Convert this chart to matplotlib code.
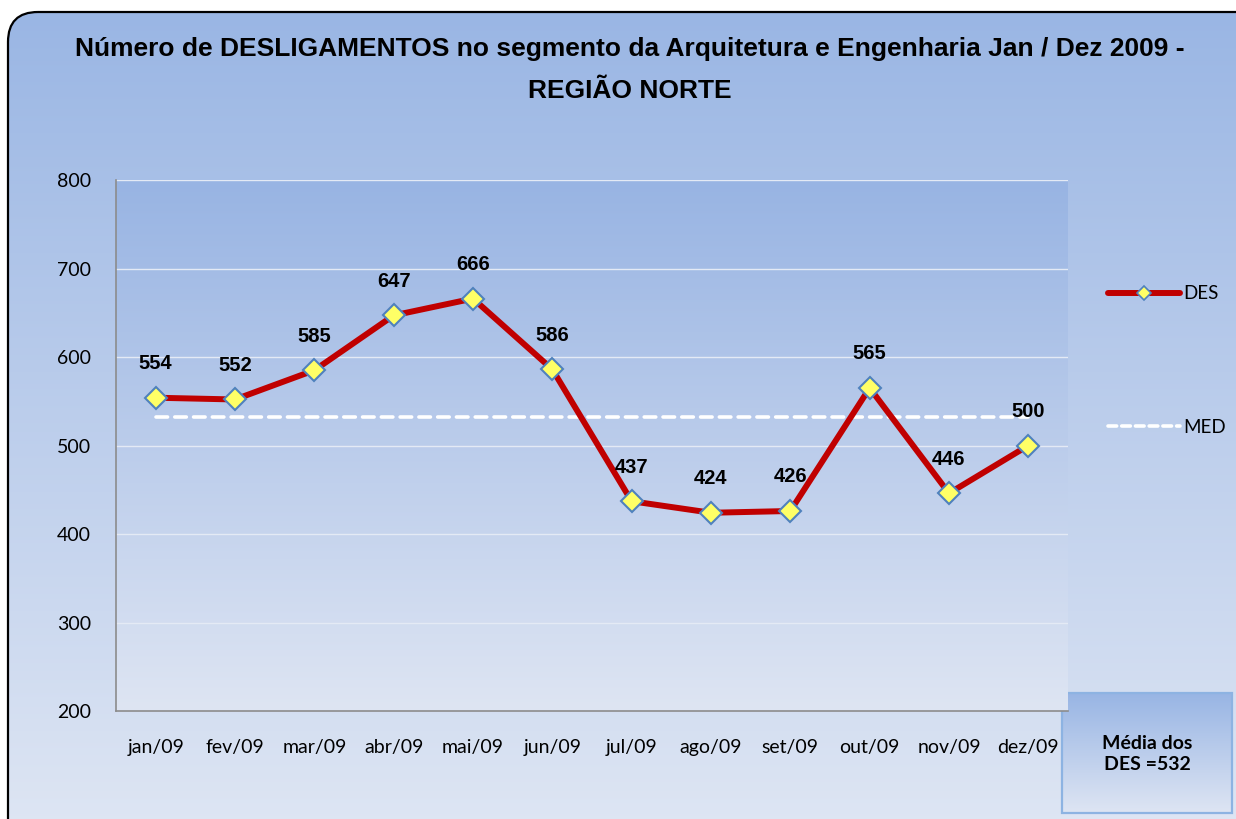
import numpy as np
import matplotlib
matplotlib.use("Agg")
import matplotlib.pyplot as plt
from matplotlib.patches import FancyBboxPatch, Rectangle
from matplotlib.lines import Line2D
from matplotlib import font_manager as fm

months = ["jan/09", "fev/09", "mar/09", "abr/09", "mai/09", "jun/09",
          "jul/09", "ago/09", "set/09", "out/09", "nov/09", "dez/09"]
des = [554, 552, 585, 647, 666, 586, 437, 424, 426, 565, 446, 500]
med_value = 532
med = [med_value] * len(months)
yticks = [200, 300, 400, 500, 600, 700, 800]
title = "Número de DESLIGAMENTOS no segmento da Arquitetura e Engenharia Jan / Dez 2009 -\nREGIÃO NORTE"
box_text = "Média dos\nDES =%d" % med_value

def bold_fp(size):
    return fm.FontProperties(family="Liberation Sans", weight="bold", size=size)

W, H = 1236, 819
fig = plt.figure(figsize=(W / 100, H / 100), dpi=100)
fig.patch.set_facecolor("white")

def vgrad(top, bottom, n=256):
    top = np.array(top) / 255.0
    bottom = np.array(bottom) / 255.0
    t = np.linspace(0, 1, n)[:, None]
    g = top[None, :] * (1 - t) + bottom[None, :] * t
    return g[:, None, :]

# background axes in pixel coordinates
bg = fig.add_axes([0, 0, 1, 1], zorder=-2)
bg.set_xlim(0, W)
bg.set_ylim(H, 0)
bg.axis("off")
frame = FancyBboxPatch((8, 12), 1262, 840, boxstyle="round,pad=0,rounding_size=30",
                       facecolor="none", edgecolor="black", lw=1.6, zorder=3)
bg.add_patch(frame)
im = bg.imshow(vgrad((154, 182, 228), (224, 231, 244)), extent=(8, 1270, 852, 12),
               aspect="auto", zorder=1, interpolation="bilinear")
im.set_clip_path(frame)
bg.set_xlim(0, W)
bg.set_ylim(H, 0)

# title
fig.text(630 / W, 1 - 70 / H, title, ha="center", va="center",
         fontproperties=bold_fp(19), linespacing=1.9, color="black")

# main axes
L, R, T, B = 116, 1068, 180, 711
ax = fig.add_axes([L / W, 1 - B / H, (R - L) / W, (B - T) / H], zorder=1)
ax.patch.set_visible(False)
ax.imshow(vgrad((152, 180, 227), (222, 229, 243)), extent=(0, 1, 0, 1),
          transform=ax.transAxes, aspect="auto", zorder=0, interpolation="bilinear")

x = np.arange(len(months))
ax.plot(x, med, color="white", lw=2.6, dashes=(3.2, 2.0), dash_capstyle="round",
        zorder=3, label="MED")
ax.plot(x, des, color="#C00000", lw=4.3, solid_capstyle="round", zorder=4,
        marker="D", markersize=11.5, markerfacecolor="#FFFF66",
        markeredgecolor="#4F81BD", markeredgewidth=1.5, label="DES")

for xi, v in zip(x, des):
    ax.annotate(str(v), (xi, v), xytext=(0, 24.5), textcoords="offset points",
                ha="center", va="center", fontproperties=bold_fp(14.5), zorder=5)

ax.set_xlim(-0.5, len(months) - 0.5)
ax.set_ylim(200, 800)
ax.set_yticks(yticks)
ax.set_xticks(x)
ax.set_xticklabels(months)
ax.grid(axis="y", color="#E4EAF5", lw=1.0, zorder=1)
ax.set_axisbelow(True)
for s in ["top", "right"]:
    ax.spines[s].set_visible(False)
for s in ["left", "bottom"]:
    ax.spines[s].set_color("#8C8C8C")
    ax.spines[s].set_linewidth(1.2)
ax.tick_params(axis="both", length=0, labelsize=14, pad=18)
for lab in ax.get_xticklabels() + ax.get_yticklabels():
    lab.set_family("Lato")
ax.tick_params(axis="x", pad=20)

# legend
h_des = Line2D([], [], color="#C00000", lw=4.3, solid_capstyle="round", marker="D",
               markersize=7, markerfacecolor="#FFFF66", markeredgecolor="#4F81BD",
               markeredgewidth=1.2)
h_med = Line2D([], [], color="white", lw=2.6, dashes=(2.4, 1.4), dash_capstyle="round")
leg = fig.legend([h_des, h_med], ["DES", "MED"], loc="upper left",
                 bbox_to_anchor=(1099 / W, 1 - 276 / H), frameon=False,
                 prop={"family": "Lato", "size": 13.5}, handlelength=3.8,
                 handletextpad=0.2, labelspacing=6.2, borderpad=0)

# info box bottom-right
bx, by, bw, bh = 1062, 693, 170, 120
rect = Rectangle((bx, by), bw, bh, facecolor="none", edgecolor="#8DB3E2", lw=1.6, zorder=3)
bg.add_patch(rect)
im2 = bg.imshow(vgrad((152, 181, 228), (222, 229, 243)), extent=(bx, bx + bw, by + bh, by),
                aspect="auto", zorder=2, interpolation="bilinear")
im2.set_clip_path(rect)
bg.text(bx + bw / 2, by + bh / 2 + 1, box_text, ha="center", va="center", fontsize=14,
        fontweight="bold", family="Lato", linespacing=1.3, zorder=4)
bg.set_xlim(0, W)
bg.set_ylim(H, 0)

fig.savefig("out.png", dpi=100, facecolor="white")
